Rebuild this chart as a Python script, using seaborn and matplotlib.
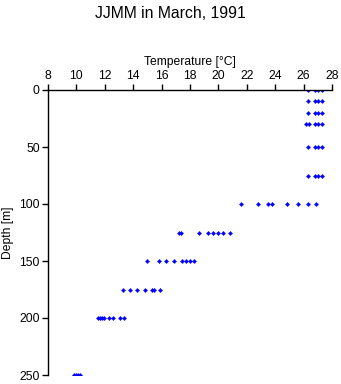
import matplotlib
matplotlib.use("Agg")
import matplotlib.pyplot as plt
import seaborn as sns
import pandas as pd

sns.set_theme(style="white")
plt.rcParams['font.family'] = ['Liberation Sans', 'DejaVu Sans']
plt.rcParams['text.color'] = 'black'
plt.rcParams['axes.labelcolor'] = 'black'

depth_levels = [0, 10, 20, 30, 50, 75, 100, 125, 150, 175, 200, 250]
temps_by_depth = [
    [26.3, 26.8, 27.0, 27.3],
    [26.3, 26.8, 27.0, 27.3],
    [26.3, 26.8, 27.0, 27.3],
    [26.2, 26.4, 26.8, 27.0, 27.3],
    [26.3, 26.8, 27.0, 27.3],
    [26.3, 26.8, 27.0, 27.3],
    [21.6, 22.8, 23.5, 23.8, 24.8, 25.6, 26.3, 26.9],
    [17.2, 17.35, 18.6, 19.3, 19.6, 20.0, 20.3, 20.8],
    [15.0, 15.8, 16.3, 16.9, 17.45, 17.75, 18.0, 18.3],
    [13.3, 13.8, 14.3, 14.8, 15.3, 15.45, 15.9],
    [11.5, 11.65, 11.8, 11.95, 12.3, 12.6, 13.1, 13.35],
    [9.8, 9.95, 10.1, 10.25],
]

rows = []
for d, ts in zip(depth_levels, temps_by_depth):
    for t in ts:
        rows.append({"Depth": d, "Temperature": t})
df = pd.DataFrame(rows)

fig = plt.figure(figsize=(3.41, 3.84), dpi=100)
ax = fig.add_axes([48/341, 1 - 375/384, (332 - 48)/341, (375 - 90)/384])
sns.scatterplot(data=df, x="Temperature", y="Depth", ax=ax, marker="D",
                s=5, color="#0000ff", edgecolor="#0000ff", linewidth=0.2)

ax.set_xlim(8, 28)
ax.set_ylim(250, 0)
ax.set_xticks(range(8, 29, 2))
ax.set_yticks([0, 50, 100, 150, 200, 250])
ax.xaxis.tick_top()
ax.xaxis.set_label_position("top")
for s in ["right", "bottom"]:
    ax.spines[s].set_visible(False)
for s in ["top", "left"]:
    ax.spines[s].set_color("black")
    ax.spines[s].set_linewidth(1.0)
ax.tick_params(axis="both", direction="out", length=4, width=1, colors="black",
               labelsize=8.7, pad=2)
ax.tick_params(axis="x", top=True, bottom=False)
ax.tick_params(axis="y", left=True)
ax.set_xlabel("Temperature [°C]", fontsize=8.7, labelpad=3, color="black")
ax.set_ylabel("Depth [m]", fontsize=8.7, labelpad=4, color="black")
fig.text(0.5, 1 - 13/384, "JJMM in March, 1991", ha="center", va="center",
         fontsize=11.3, color="black")

fig.savefig("out.png", dpi=100)
